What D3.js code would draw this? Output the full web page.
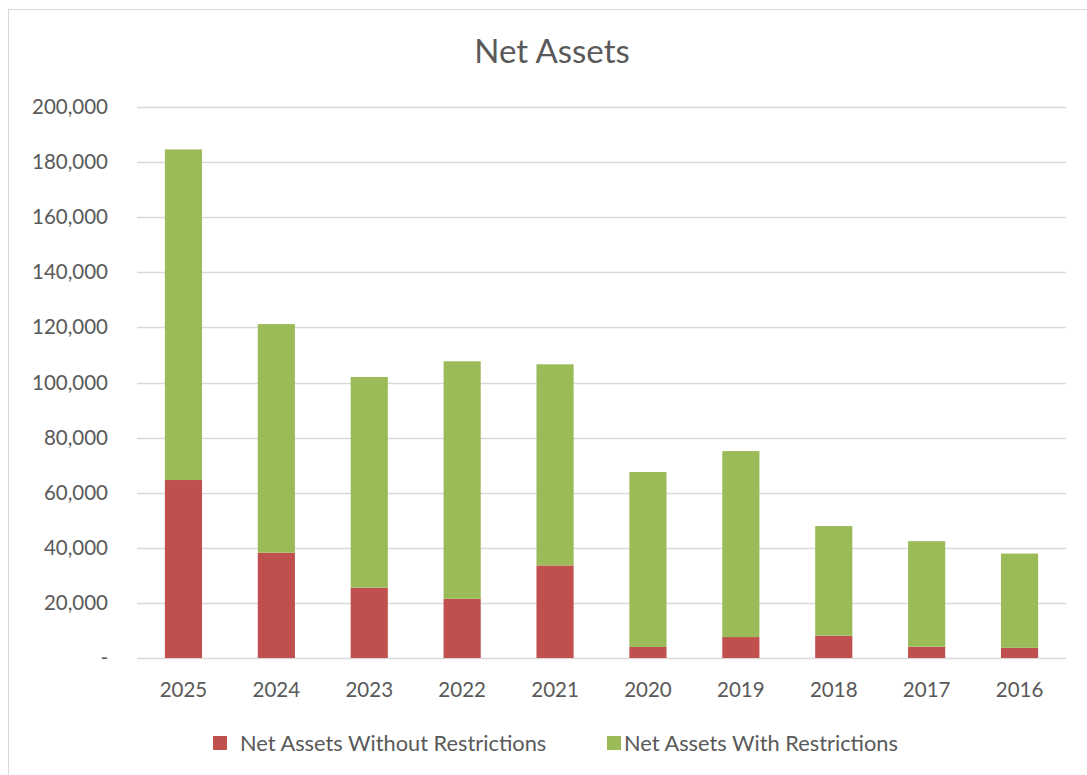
<!DOCTYPE html>
<html>
<head>
<meta charset="utf-8">
<script src="https://cdn.jsdelivr.net/npm/d3@7/dist/d3.min.js"></script>
<style>
  html, body { margin: 0; padding: 0; background: #fff; }
  #chart { width: 1087px; height: 775px; }
  text { font-family: Lato, "Open Sans", sans-serif; fill: #595959; }
</style>
</head>
<body>
<div id="chart"></div>
<script>
// chart data
var years = ["2025", "2024", "2023", "2022", "2021", "2020", "2019", "2018", "2017", "2016"];
var withoutRestrictions = [64600, 38200, 25500, 21500, 33600, 4000, 7600, 8100, 4100, 3700];
var withRestrictions = [120000, 83000, 76500, 86200, 73000, 63500, 67500, 39800, 38300, 34200];
var yTicks = [0, 20000, 40000, 60000, 80000, 100000, 120000, 140000, 160000, 180000, 200000];
var seriesNames = ["Net Assets Without Restrictions", "Net Assets With Restrictions"];
var seriesColors = ["#C0504D", "#9BBB59"];

var width = 1087,
    height = 775;

var margin = {left: 137, right: 21, top: 107, bottom: 117};

var svg = d3.select("#chart")
  .append("svg")
    .attr("width", width)
    .attr("height", height);

// chart area border
svg.append("rect")
    .attr("x", 8.5)
    .attr("y", 9.5)
    .attr("width", 1100)
    .attr("height", 800)
    .attr("fill", "#fff")
    .attr("stroke", "#D9D9D9")
    .attr("stroke-width", 1);

svg.append("text")
    .attr("x", 552)
    .attr("y", 63)
    .attr("text-anchor", "middle")
    .style("font-size", "33px")
    .text("Net Assets");

var x = d3.scaleBand()
    .domain(years)
    .range([margin.left, width - margin.right])
    .paddingInner(0.6)
    .paddingOuter(0.3);

var y = d3.scaleLinear()
    .domain([0, 200000])
    .range([height - margin.bottom, margin.top]);

// gridlines
svg.append("g")
  .selectAll("line")
  .data(yTicks)
  .enter().append("line")
    .attr("x1", margin.left)
    .attr("x2", width - margin.right)
    .attr("y1", function(d) { return Math.round(y(d)) + 0.5; })
    .attr("y2", function(d) { return Math.round(y(d)) + 0.5; })
    .attr("stroke", "#D9D9D9")
    .attr("stroke-width", 1.5);

// y axis labels
var yAxis = d3.axisLeft(y)
    .tickValues(yTicks)
    .tickSize(0)
    .tickPadding(0)
    .tickFormat(function(d) { return d === 0 ? "-" : d3.format(",")(d); });

var yg = svg.append("g")
    .attr("transform", "translate(108,0)")
    .call(yAxis);
yg.select(".domain").remove();
yg.selectAll("text")
    .style("font-size", "20.5px")
    .attr("fill", "#595959");

// stacked bars
var rows = years.map(function(yr, i) {
  return {year: yr, a: withoutRestrictions[i], b: withRestrictions[i]};
});
var stack = d3.stack().keys(["a", "b"])(rows);

svg.append("g")
  .selectAll("g")
  .data(stack)
  .enter().append("g")
    .attr("fill", function(d, i) { return seriesColors[i]; })
  .selectAll("rect")
  .data(function(d) { return d; })
  .enter().append("rect")
    .attr("x", function(d) { return x(d.data.year); })
    .attr("width", x.bandwidth())
    .attr("y", function(d) { return y(d[1]); })
    .attr("height", function(d) { return y(d[0]) - y(d[1]); });

// x axis labels
var xAxis = d3.axisBottom(x)
    .tickSize(0)
    .tickPadding(0);

var xg = svg.append("g")
    .attr("transform", "translate(0," + (height - margin.bottom + 24) + ")")
    .call(xAxis);
xg.select(".domain").remove();
xg.selectAll("text")
    .style("font-size", "20.5px")
    .attr("fill", "#595959");

// legend
var legendX = [213, 607];
var legend = svg.append("g")
  .selectAll("g")
  .data(seriesNames)
  .enter().append("g")
    .attr("transform", function(d, i) { return "translate(" + legendX[i] + ",736)"; });

legend.append("rect")
    .attr("width", 14)
    .attr("height", 14)
    .attr("fill", function(d, i) { return seriesColors[i]; });

legend.append("text")
    .attr("x", function(d, i) { return i === 0 ? 27 : 17; })
    .attr("y", 7)
    .attr("dy", "0.35em")
    .style("font-size", "21.8px")
    .text(function(d) { return d; });
</script>
</body>
</html>
